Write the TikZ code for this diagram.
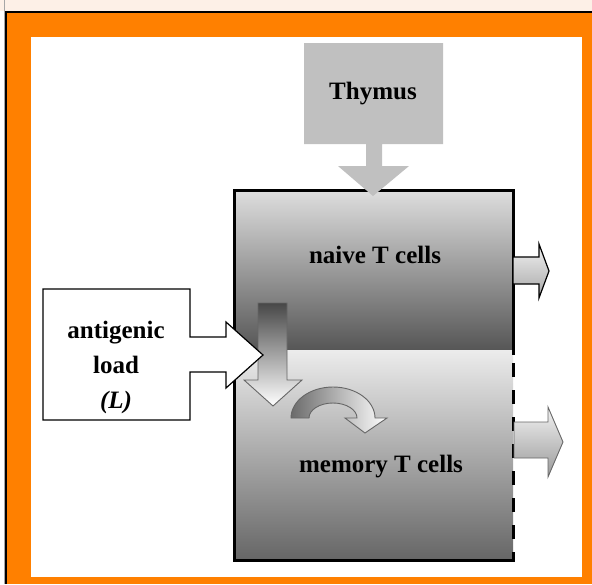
\documentclass[tikz,border=0pt]{standalone}
\usepackage{fontspec}
\setmainfont{Liberation Serif}
\usepackage{xcolor}
\usetikzlibrary{positioning}

\definecolor{pagebg}{HTML}{FDF0E7}
\definecolor{frameorange}{HTML}{FF8000}
\definecolor{thymusgray}{HTML}{C0C0C0}
\definecolor{naivetop}{HTML}{DEDEDE}
\definecolor{naivebot}{HTML}{565656}
\definecolor{memtop}{HTML}{ECECEC}
\definecolor{membot}{HTML}{666666}

\tikzset{
  celltext/.style={font=\fontsize{25}{35}\selectfont\bfseries, inner sep=0pt, align=center},
  boxline/.style={line width=3pt, line cap=rect},
}

\begin{document}
\begin{tikzpicture}[x=1pt, y=-1pt,
    blockarrow/.style={draw=black, line width=1.2pt, line join=miter},
    softarrow/.style={draw=black!60, line width=0.9pt, line join=miter}]

  \useasboundingbox (0,0) rectangle (592,584);

  % Kopfleiste und oranger Rahmen
  \fill[pagebg] (0,0) rectangle (592,11);
  \draw[black!35, line width=1pt] (4.5,0) -- (4.5,584);
  \fill[frameorange] (7,13) rectangle (592,584);
  \fill[white] (31,37) rectangle (582,577);
  \draw[black, line width=2pt] (6,584) -- (6,12) -- (592,12);

  % Behaelter: Grenzen
  \def\bl{234} \def\br{513}
  \def\bt{190} \def\bm{350} \def\bb{560}

  % naive Zellen (oben) und Gedaechtniszellen (unten)
  \shade[top color=naivetop, bottom color=naivebot] (\bl,\bt) rectangle (\br,\bm);
  \shade[top color=memtop, bottom color=membot] (\bl,\bm) rectangle (\br,\bb);

  % Rand, rechts unten gestrichelt
  \draw[boxline] (\br,\bm+3) -- (\br,\bt) -- (\bl,\bt) -- (\bl,\bb) -- (\br,\bb);
  \draw[line width=3pt, dash pattern=on 14pt off 13pt] (\br,\bm+13) -- (\br,\bb);

  % Thymus mit Pfeil nach unten
  \fill[thymusgray] (304,43) -- (443,43) -- (443,144) -- (382,144) -- (382,166)
    -- (409,166) -- (373,196) -- (338,166) -- (366,166) -- (366,144)
    -- (304,144) -- cycle;
  \node[celltext] (thymus) at (373,94) {Thymus};

  % Abfluss naive Zellen
  \shade[top color=white!95!black, bottom color=black!35, blockarrow]
    (\br,257) -- (539,257) -- (539,244) -- (549,271) -- (539,298)
    -- (539,284) -- (\br,284) -- cycle;

  % Abfluss Gedaechtniszellen
  \shade[top color=white!95!black, bottom color=black!40, softarrow]
    (\br+1,422) -- (548,422) -- (548,407) -- (563,442) -- (548,477)
    -- (548,458) -- (\br+1,458) -- cycle;

  % Uebergang naiv -> Gedaechtnis
  \shade[top color=black!72, bottom color=white, softarrow]
    (258,303) -- (287,303) -- (287,380) -- (302,380) -- (273,406)
    -- (244,380) -- (258,380) -- cycle;

  % Selbsterneuerung der Gedaechtniszellen
  \coordinate (loop) at (333,418);
  \shade[left color=black!58, right color=white, softarrow]
    (291,418) arc[start angle=180, end angle=360, x radius=42, y radius=31]
    -- (387,418) -- (365,433) -- (345,418) -- (357,418)
    arc[start angle=360, end angle=180, x radius=24, y radius=15]
    -- cycle;

  % antigene Last mit Pfeil in den Behaelter
  \filldraw[fill=white, blockarrow]
    (43,289) -- (190,289) -- (190,337) -- (226,337) -- (226,322)
    -- (263,355) -- (226,388) -- (226,372) -- (190,372) -- (190,420)
    -- (43,420) -- cycle;
  \node[celltext] (antigen) at (116,367) {antigenic\\load\\\textit{(L)}};

  % Beschriftungen
  \node[celltext] (naive) at (375,255) {naive T cells};
  \node[celltext] (memory) at (381,467) {memory T cells};

\end{tikzpicture}
\end{document}
